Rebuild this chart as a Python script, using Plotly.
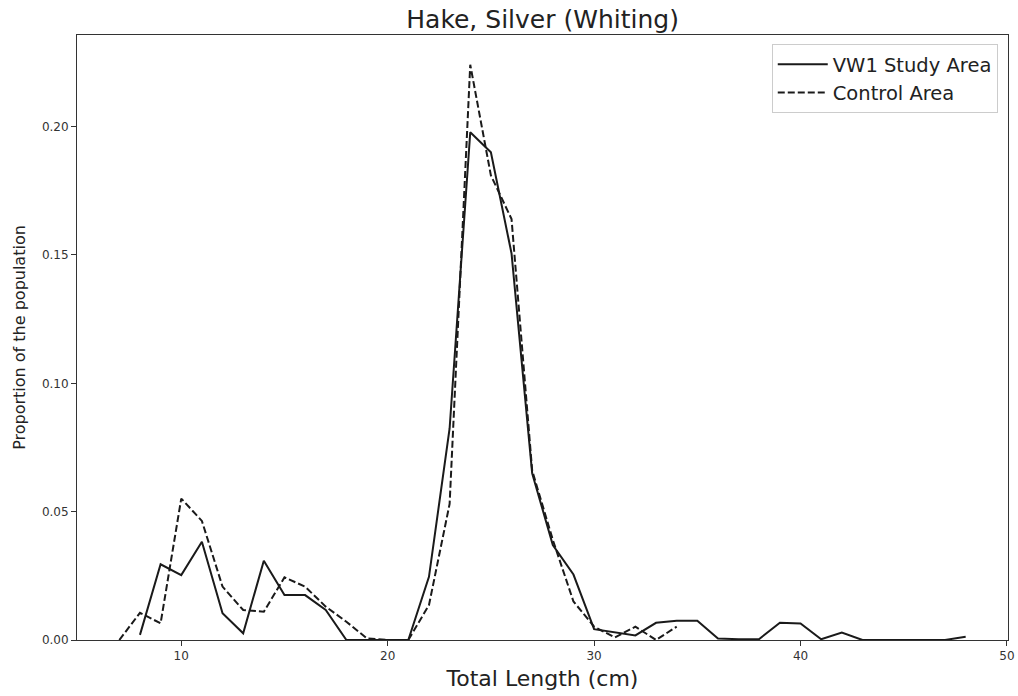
import plotly.graph_objects as go

# Data
study_x = list(range(8, 49))
study_y = [0.002, 0.0295, 0.0253, 0.0383, 0.0104, 0.0026, 0.0309, 0.0175, 0.0175, 0.0117,
           0.0, 0.0, 0.0, 0.0, 0.0246, 0.0824, 0.1978, 0.190, 0.1506, 0.0649,
           0.037, 0.0255, 0.0042, 0.0029, 0.0018, 0.0067, 0.0075, 0.0075, 0.0006, 0.0003,
           0.0004, 0.0067, 0.0064, 0.0003, 0.0029, 0.0, 0.0, 0.0, 0.0, 0.0, 0.0013]
control_x = list(range(7, 35))
control_y = [0.0, 0.0106, 0.0065, 0.0551, 0.0464, 0.0208, 0.0117, 0.011, 0.0244, 0.0208,
             0.013, 0.0071, 0.0006, 0.0, 0.0, 0.0136, 0.053, 0.2241, 0.181, 0.164,
             0.066, 0.039, 0.015, 0.0052, 0.001, 0.0052, 0.0, 0.0052]
x_ticks = [10, 20, 30, 40, 50]
y_ticks = [0.0, 0.05, 0.10, 0.15, 0.20]

line_col = "#1a1a1a"
fig = go.Figure()
fig.add_trace(go.Scatter(x=study_x, y=study_y, mode="lines", name="VW1 Study Area",
                         line=dict(color=line_col, width=2)))
fig.add_trace(go.Scatter(x=control_x, y=control_y, mode="lines", name="Control Area",
                         line=dict(color=line_col, width=2, dash="7px,3px")))

axis_common = dict(showline=True, linecolor="#333333", linewidth=1, mirror=True,
                   ticks="outside", ticklen=5, tickcolor="#333333", showgrid=False,
                   zeroline=False, automargin=False,
                   tickfont=dict(family="DejaVu Sans", size=12, color="#333333"))

fig.update_layout(
    width=1018, height=696,
    margin=dict(l=77, r=10, t=35, b=56),
    paper_bgcolor="white", plot_bgcolor="white",
    font=dict(family="DejaVu Sans", color="#222222"),
    title=dict(text="Hake, Silver (Whiting)", x=0.533, xanchor="center", y=0.973, yanchor="middle",
               font=dict(size=25, color="#222222")),
    xaxis=dict(range=[4.95, 50.05], tickvals=x_ticks,
               title=dict(text="Total Length (cm)", font=dict(size=22, color="#222222"), standoff=8),
               **axis_common),
    yaxis=dict(range=[0, 0.2357], tickvals=y_ticks, tickformat=".2f",
               title=dict(text="Proportion of the population", font=dict(size=16, color="#222222"), standoff=12),
               **axis_common),
    legend=dict(x=0.989, y=0.985, xanchor="right", yanchor="top",
                bordercolor="#cccccc", borderwidth=1, bgcolor="white", itemwidth=50,
                font=dict(size=19.5, color="#222222")),
    showlegend=True,
)

fig.write_html("out.html")
